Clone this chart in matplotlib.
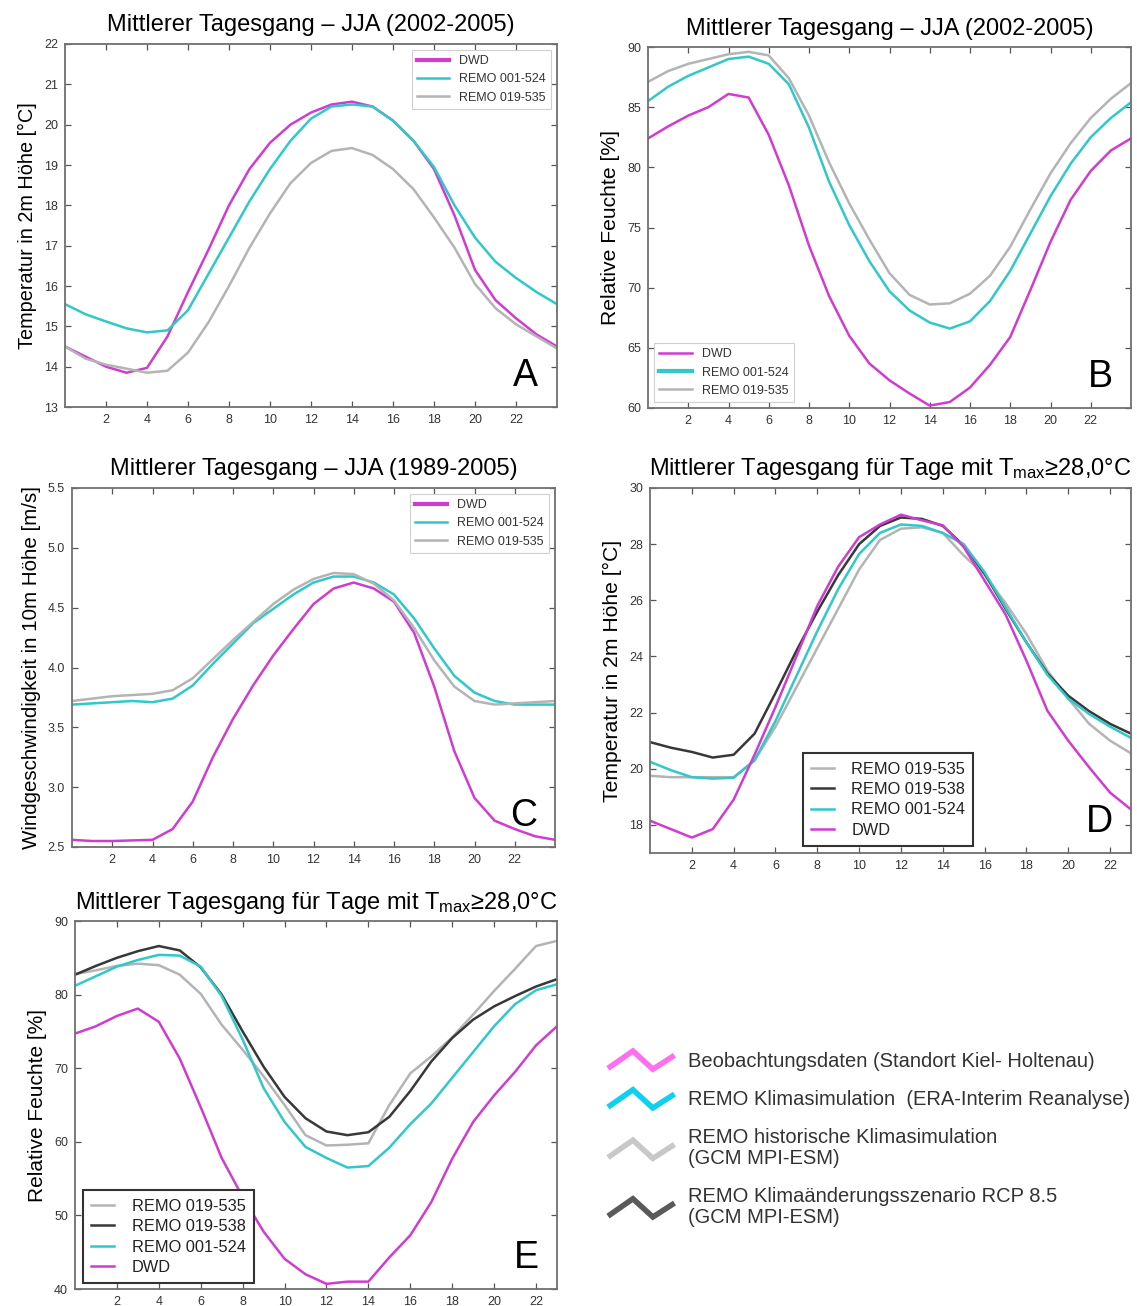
import numpy as np
import matplotlib
matplotlib.use('Agg')
import matplotlib.pyplot as plt
from matplotlib.lines import Line2D
from matplotlib.legend_handler import HandlerBase

plt.rcParams['font.family'] = ['Liberation Sans', 'DejaVu Sans']
plt.rcParams['mathtext.fontset'] = 'custom'
plt.rcParams['mathtext.rm'] = 'Liberation Sans'

# ---------------- data ----------------
hours_a = list(range(25))   # panels A, B, C
hours_d = list(range(24))   # panels D, E

a_dwd = [14.5, 14.25, 14.0, 13.85, 13.97, 14.75, 15.85, 16.9, 18.0, 18.9, 19.55, 20.0, 20.3,
         20.5, 20.57, 20.45, 20.1, 19.6, 18.9, 17.75, 16.4, 15.65, 15.2, 14.8, 14.5]
a_remo524 = [15.55, 15.3, 15.12, 14.95, 14.85, 14.9, 15.4, 16.3, 17.2, 18.1, 18.9, 19.6, 20.15,
             20.45, 20.5, 20.45, 20.1, 19.6, 18.95, 18.0, 17.2, 16.6, 16.2, 15.85, 15.55]
a_remo535 = [14.5, 14.2, 14.05, 13.95, 13.85, 13.9, 14.35, 15.1, 16.0, 16.95, 17.8, 18.55, 19.05,
             19.35, 19.42, 19.25, 18.9, 18.4, 17.7, 16.95, 16.05, 15.45, 15.05, 14.75, 14.45]

b_dwd = [82.4, 83.4, 84.3, 85.0, 86.1, 85.8, 82.7, 78.5, 73.5, 69.3, 66.0, 63.7, 62.3,
         61.2, 60.2, 60.5, 61.7, 63.6, 65.9, 69.8, 73.8, 77.3, 79.7, 81.4, 82.4]
b_remo524 = [85.5, 86.7, 87.6, 88.3, 89.0, 89.2, 88.6, 86.9, 83.3, 78.8, 75.2, 72.2, 69.7,
             68.1, 67.1, 66.6, 67.2, 68.9, 71.4, 74.5, 77.6, 80.3, 82.5, 84.1, 85.4]
b_remo535 = [87.1, 88.0, 88.6, 89.0, 89.4, 89.6, 89.3, 87.4, 84.3, 80.4, 77.0, 74.0, 71.2,
             69.4, 68.6, 68.7, 69.5, 71.0, 73.4, 76.5, 79.5, 82.0, 84.1, 85.7, 87.0]

c_dwd = [2.56, 2.55, 2.55, 2.555, 2.56, 2.65, 2.88, 3.25, 3.57, 3.85, 4.1, 4.32, 4.53,
         4.66, 4.71, 4.66, 4.55, 4.29, 3.84, 3.3, 2.91, 2.72, 2.65, 2.59, 2.56]
c_remo524 = [3.69, 3.70, 3.71, 3.72, 3.71, 3.74, 3.85, 4.03, 4.2, 4.37, 4.49, 4.61, 4.71,
             4.76, 4.76, 4.71, 4.61, 4.41, 4.16, 3.93, 3.79, 3.72, 3.69, 3.69, 3.69]
c_remo535 = [3.72, 3.74, 3.76, 3.77, 3.78, 3.81, 3.91, 4.07, 4.23, 4.38, 4.53, 4.65, 4.74,
             4.79, 4.78, 4.70, 4.56, 4.33, 4.06, 3.84, 3.72, 3.69, 3.70, 3.71, 3.72]

d_remo535 = [19.75, 19.7, 19.7, 19.7, 19.7, 20.3, 21.5, 22.9, 24.3, 25.7, 27.1, 28.15,
             28.55, 28.6, 28.4, 27.6, 26.9, 25.9, 24.8, 23.5, 22.5, 21.6, 21.0, 20.55]
d_remo538 = [20.95, 20.75, 20.6, 20.4, 20.5, 21.25, 22.7, 24.2, 25.6, 26.9, 28.0, 28.65,
             28.95, 28.9, 28.65, 27.95, 26.95, 25.7, 24.5, 23.4, 22.6, 22.05, 21.6, 21.25]
d_remo524 = [20.25, 19.95, 19.7, 19.65, 19.68, 20.3, 21.7, 23.3, 24.9, 26.4, 27.65, 28.4,
             28.7, 28.65, 28.4, 28.0, 27.0, 25.75, 24.5, 23.35, 22.5, 21.95, 21.5, 21.1]
d_dwd = [18.15, 17.85, 17.55, 17.85, 18.9, 20.5, 22.2, 24.0, 25.8, 27.2, 28.25, 28.7,
         29.05, 28.85, 28.67, 27.9, 26.7, 25.5, 23.85, 22.07, 21.0, 20.05, 19.15, 18.55]

e_remo535 = [82.8, 83.3, 83.9, 84.2, 84.0, 82.7, 80.1, 75.9, 72.5, 68.9, 65.0, 60.9,
             59.5, 59.6, 59.8, 65.0, 69.3, 71.6, 74.2, 77.3, 80.5, 83.5, 86.6, 87.3]
e_remo538 = [82.7, 83.9, 85.0, 85.9, 86.6, 86.0, 83.7, 80.0, 75.0, 70.2, 66.1, 63.2,
             61.4, 60.9, 61.3, 63.4, 66.9, 70.9, 74.1, 76.6, 78.4, 79.8, 81.1, 82.1]
e_remo524 = [81.2, 82.5, 83.8, 84.7, 85.4, 85.3, 83.8, 79.8, 73.9, 67.3, 62.7, 59.3,
             57.8, 56.5, 56.7, 59.2, 62.4, 65.2, 68.7, 72.2, 75.7, 78.7, 80.6, 81.4]
e_dwd = [74.7, 75.7, 77.1, 78.1, 76.3, 71.3, 64.7, 57.8, 52.5, 47.8, 44.1, 42.0,
         40.7, 41.0, 41.0, 44.3, 47.3, 51.8, 57.7, 62.7, 66.3, 69.5, 73.1, 75.7]

xticks = [2, 4, 6, 8, 10, 12, 14, 16, 18, 20, 22]
a_yticks = [13, 14, 15, 16, 17, 18, 19, 20, 21, 22]
b_yticks = [60, 65, 70, 75, 80, 85, 90]
c_yticks = [2.5, 3.0, 3.5, 4.0, 4.5, 5.0, 5.5]
d_yticks = [18, 20, 22, 24, 26, 28, 30]
e_yticks = [40, 50, 60, 70, 80, 90]

lbl_dwd = 'DWD'
lbl_524 = 'REMO 001-524'
lbl_535 = 'REMO 019-535'
lbl_538 = 'REMO 019-538'

title_jja1 = 'Mittlerer Tagesgang – JJA (2002-2005)'
title_jja2 = 'Mittlerer Tagesgang – JJA (1989-2005)'
title_tmax = 'Mittlerer Tagesgang für Tage mit T$\\mathregular{_{max}}$≥28,0°C'

legend_labels = ['Beobachtungsdaten (Standort Kiel- Holtenau)',
                 'REMO Klimasimulation  (ERA-Interim Reanalyse)',
                 'REMO historische Klimasimulation\n(GCM MPI-ESM)',
                 'REMO Klimaänderungsszenario RCP 8.5\n(GCM MPI-ESM)']

# ---------------- style ----------------
MAG = '#d03cd0'
CYA = '#30c8c8'
GRY = '#b4b4b4'
BLK = '#383838'
LEG_COLORS = ['#ff70f0', '#10d0f0', '#c8c8c8', '#5a5a5a']

W, H = 1137, 1306
fig = plt.figure(figsize=(W / 100, H / 100), dpi=100)


def make_ax(l, t, r, b):
    return fig.add_axes([l / W, 1 - b / H, (r - l) / W, (b - t) / H])


def style(ax, xmax, ylim, yticks, ylabel, ylsize, title, letter, fmt=None):
    ax.set_xlim(0, xmax)
    ax.set_ylim(*ylim)
    ax.set_xticks(xticks)
    ax.set_yticks(yticks)
    if fmt:
        ax.set_yticklabels([fmt % v for v in yticks])
    ax.tick_params(direction='in', top=True, right=True, length=4, width=0.9,
                   labelsize=9, color='#555555', labelcolor='#333333', pad=5)
    for s in ax.spines.values():
        s.set_color('#707070')
        s.set_linewidth(1.3)
    ax.set_ylabel(ylabel, fontsize=ylsize, labelpad=5)
    ax.set_title(title, fontsize=17, pad=9)
    ax.text(0.962, 0.035, letter, transform=ax.transAxes, ha='right', va='bottom',
            fontsize=27)


def small_legend(ax, loc):
    leg = ax.legend(loc=loc, fontsize=9, fancybox=False, framealpha=1,
                    edgecolor='#d0d0d0', handlelength=2.6, borderaxespad=0.5,
                    labelspacing=0.5)
    leg.get_frame().set_linewidth(0.8)
    for t in leg.get_texts():
        t.set_color('#333333')
    return leg


def big_legend(ax, anchor):
    leg = ax.legend(loc='lower left', bbox_to_anchor=anchor, borderaxespad=0,
                    fontsize=11.8, fancybox=False, framealpha=1,
                    edgecolor='#333333', handlelength=1.4, handletextpad=1.05,
                    labelspacing=0.33, borderpad=0.5)
    leg.get_frame().set_linewidth(1.5)
    for t in leg.get_texts():
        t.set_color('#222222')
    return leg


# Panel A
axA = make_ax(65, 44, 557, 407)
axA.plot(hours_a, a_dwd, color=MAG, lw=1.8, label=lbl_dwd)
axA.plot(hours_a, a_remo524, color=CYA, lw=1.8, label=lbl_524)
axA.plot(hours_a, a_remo535, color=GRY, lw=1.8, label=lbl_535)
style(axA, 24, (13, 22), a_yticks, 'Temperatur in 2m Höhe [°C]', 14.3, title_jja1, 'A')
legA = small_legend(axA, 'upper right')
legA.get_lines()[0].set_linewidth(3)

# Panel B
axB = make_ax(648, 47, 1131, 408)
axB.plot(hours_a, b_dwd, color=MAG, lw=1.8, label=lbl_dwd)
axB.plot(hours_a, b_remo524, color=CYA, lw=1.8, label=lbl_524)
axB.plot(hours_a, b_remo535, color=GRY, lw=1.8, label=lbl_535)
style(axB, 24, (60, 90), b_yticks, 'Relative Feuchte [%]', 15.2, title_jja1, 'B')
legB = small_legend(axB, 'lower left')
legB.get_lines()[1].set_linewidth(3)

# Panel C
axC = make_ax(72, 488, 555, 847)
axC.plot(hours_a, c_dwd, color=MAG, lw=1.8, label=lbl_dwd)
axC.plot(hours_a, c_remo524, color=CYA, lw=1.8, label=lbl_524)
axC.plot(hours_a, c_remo535, color=GRY, lw=1.8, label=lbl_535)
style(axC, 24, (2.5, 5.5), c_yticks, 'Windgeschwindigkeit in 10m Höhe [m/s]', 14.8,
      title_jja2, 'C', fmt='%.1f')
legC = small_legend(axC, 'upper right')
legC.get_lines()[0].set_linewidth(3)

# Panel D
axD = make_ax(650, 488, 1131, 853)
axD.plot(hours_d, d_remo535, color=GRY, lw=1.8, label=lbl_535)
axD.plot(hours_d, d_remo538, color=BLK, lw=1.8, label=lbl_538)
axD.plot(hours_d, d_remo524, color=CYA, lw=1.8, label=lbl_524)
axD.plot(hours_d, d_dwd, color=MAG, lw=1.8, label=lbl_dwd)
style(axD, 23, (17, 30), d_yticks, 'Temperatur in 2m Höhe [°C]', 15.2, title_tmax, 'D')
big_legend(axD, (0.318, 0.019))

# Panel E
axE = make_ax(75, 921, 557, 1289)
axE.plot(hours_d, e_remo535, color=GRY, lw=1.8, label=lbl_535)
axE.plot(hours_d, e_remo538, color=BLK, lw=1.8, label=lbl_538)
axE.plot(hours_d, e_remo524, color=CYA, lw=1.8, label=lbl_524)
axE.plot(hours_d, e_dwd, color=MAG, lw=1.8, label=lbl_dwd)
style(axE, 23, (40, 90), e_yticks, 'Relative Feuchte [%]', 15.0, title_tmax, 'E')
big_legend(axE, (0.017, 0.016))


# ---------------- bottom-right legend with zigzag glyphs ----------------
class ZigZag(HandlerBase):
    def create_artists(self, legend, orig_handle, xdescent, ydescent, width, height,
                       fontsize, trans):
        fx = np.array([0.0, 0.375, 0.675, 1.0])
        fy = np.array([0.0, 1.0, -0.05, 0.75])
        xs = fx * width - xdescent
        ys = fy * height - ydescent
        ln = Line2D(xs, ys, color=orig_handle.get_color(), lw=orig_handle.get_linewidth(),
                    solid_joinstyle='miter', solid_capstyle='butt', transform=trans)
        return [ln]


handles = [Line2D([], [], color=c, lw=4) for c in LEG_COLORS]
zz = ZigZag()
figleg = fig.legend(handles, legend_labels, handler_map={h: zz for h in handles},
                    loc='upper left', bbox_to_anchor=(608 / W, 1 - 1051 / H),
                    frameon=False, fontsize=14.5, handlelength=3.3, handleheight=0.95,
                    handletextpad=0.65, labelspacing=0.95, borderaxespad=0, borderpad=0)
for t in figleg.get_texts():
    t.set_color('#333333')
    t.set_linespacing(1.1)

fig.savefig('out.png', dpi=100)
